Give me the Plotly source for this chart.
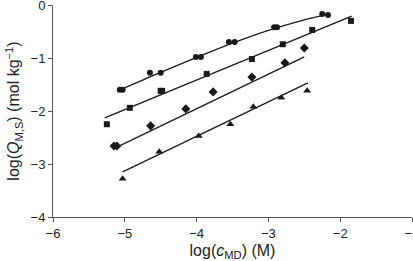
import plotly.graph_objects as go

# Data (log c_MD, log Q_M,S)
circ_x = [-5.07, -5.03, -4.65, -4.50, -4.01, -3.94, -3.55, -3.47, -2.92, -2.88, -2.25, -2.17]
circ_y = [-1.60, -1.60, -1.28, -1.28, -0.98, -0.98, -0.70, -0.70, -0.42, -0.42, -0.17, -0.19]
sq_x = [-5.25, -4.93, -4.50, -4.48, -3.86, -3.23, -2.80, -2.39, -1.85]
sq_y = [-2.25, -1.94, -1.62, -1.62, -1.30, -1.02, -0.74, -0.47, -0.30]
dia_x = [-5.15, -5.11, -4.64, -4.15, -3.77, -3.23, -2.77, -2.50]
dia_y = [-2.66, -2.66, -2.28, -1.96, -1.64, -1.36, -1.09, -0.81]
tri_x = [-5.03, -4.52, -3.97, -3.53, -3.21, -2.82, -2.46]
tri_y = [-3.28, -2.77, -2.47, -2.25, -1.92, -1.75, -1.62]

# Fitted lines
fit_circ_x = [-5.10, -4.50, -4.00, -3.50, -3.00, -2.50, -2.17]
fit_circ_y = [-1.62, -1.27, -0.99, -0.72, -0.48, -0.28, -0.17]
fit_sq_x = [-5.28, -1.84]
fit_sq_y = [-2.13, -0.21]
fit_dia_x = [-5.11, -2.50]
fit_dia_y = [-2.68, -0.98]
fit_tri_x = [-5.03, -2.45]
fit_tri_y = [-3.15, -1.47]

x_ticks = [-6, -5, -4, -3, -2, -1]
y_ticks = [-4, -3, -2, -1, 0]

fig = go.Figure()
line_style = dict(color="#1a1a1a", width=1.3)
for fx, fy, shape in [(fit_circ_x, fit_circ_y, "spline"), (fit_sq_x, fit_sq_y, "linear"),
                      (fit_dia_x, fit_dia_y, "linear"), (fit_tri_x, fit_tri_y, "linear")]:
    fig.add_trace(go.Scatter(x=fx, y=fy, mode="lines", line=dict(shape=shape, **line_style),
                             showlegend=False, hoverinfo="skip"))

for xs, ys, sym, sz in [(circ_x, circ_y, "circle", 6), (sq_x, sq_y, "square", 6),
                        (dia_x, dia_y, "diamond", 7), (tri_x, tri_y, "triangle-up", 7)]:
    fig.add_trace(go.Scatter(x=xs, y=ys, mode="markers",
                             marker=dict(symbol=sym, size=sz, color="#1a1a1a"),
                             showlegend=False))

font = dict(family="Liberation Sans, Arial, sans-serif", size=13, color="#222")
fig.update_layout(
    width=413, height=261,
    margin=dict(l=53, r=1, t=5, b=44),
    paper_bgcolor="white", plot_bgcolor="white",
    font=font,
)
fig.update_xaxes(range=[-6, -1], tickvals=x_ticks, ticks="outside", ticklen=4,
                 showline=True, linecolor="#555", linewidth=1, tickcolor="#555",
                 showgrid=False, zeroline=False, automargin=False,
                 ticklabeloverflow="allow",
                 title=dict(text="log(<i>c</i><sub>MD</sub>) (M)", standoff=5))
fig.update_yaxes(range=[-4, 0], tickvals=y_ticks, ticks="outside", ticklen=4,
                 showline=True, linecolor="#555", linewidth=1, tickcolor="#555",
                 showgrid=False, zeroline=False, automargin=False,
                 ticklabeloverflow="allow",
                 title=dict(text="log(<i>Q</i><sub>M,S</sub>) (mol kg<sup>−1</sup>)", standoff=6))

fig.write_html("out.html", config={"displayModeBar": False},
               post_script="document.body.style.margin='0';document.body.style.overflow='hidden';")
